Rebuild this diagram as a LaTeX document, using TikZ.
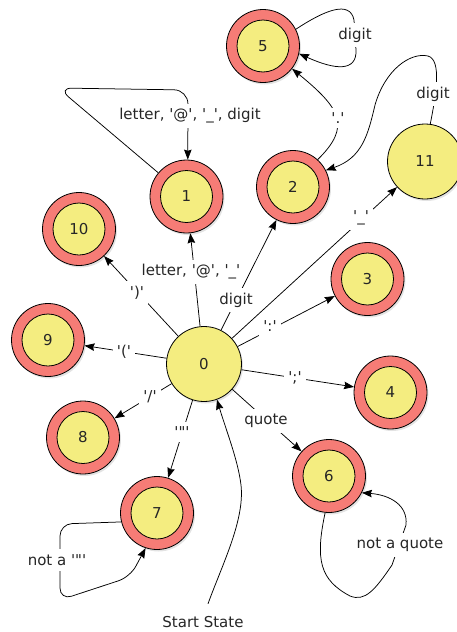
\documentclass[tikz,border=0pt]{standalone}
\usepackage{fontspec}
\setmainfont{DejaVu Sans}[Ligatures=TeXOff]
\usetikzlibrary{arrows.meta,shadows}
\definecolor{ringred}{RGB}{246,124,118}
\definecolor{coreyel}{RGB}{244,237,128}
\begin{document}
\begin{tikzpicture}[x=1pt,y=-1pt,
  font=\fontsize{15}{18}\selectfont,
  every node/.style={text=black!85},
  shad/.style={drop shadow={opacity=0.22,shadow xshift=1.5pt,shadow yshift=-2pt}},
  acc/.style={circle, draw=black, line width=0.8pt, fill=ringred, minimum size=73pt, inner sep=0pt, shad,
    path picture={\draw[line width=0.8pt, fill=coreyel] (path picture bounding box.center) circle (26pt);}},
  yelstate/.style={circle, draw=black, line width=0.8pt, fill=coreyel, minimum size=75pt, inner sep=0pt, shad},
  arr/.style={-{Stealth[length=10pt,width=7.5pt,inset=1.2pt]}, line width=0.75pt, black},
  lbl/.style={fill=white, inner xsep=4pt, inner ysep=5pt}
]
\useasboundingbox (0,0) rectangle (457,632);
\clip (0,0) rectangle (457,632);

% states
\node[yelstate] (n0) at (204,364) {0};
\node[acc] (n1) at (186.5,196.5) {1};
\node[acc] (n2) at (293,187) {2};
\node[acc] (n3) at (367.5,279) {3};
\node[acc] (n4) at (390.5,392.5) {4};
\node[acc] (n5) at (263,46) {5};
\node[acc] (n6) at (329,476) {6};
\node[acc] (n7) at (157,513) {7};
\node[acc] (n8) at (83,437.5) {8};
\node[acc] (n9) at (48,340) {9};
\node[acc] (n10) at (79,229) {10};
\node[yelstate] (n11) at (425,161.5) {11};
\node (start) at (203,622) {Start State};

% transitions from 0
\draw[arr] (n0) -- (n1);
\draw[arr] (n0) -- (n2);
\draw[arr] (n0) -- (n3);
\draw[arr] (n0) -- (n4);
\draw[arr] (n0) -- (n6);
\draw[arr] (n0) -- (n7);
\draw[arr] (n0) -- (n8);
\draw[arr] (n0) -- (n9);
\draw[arr] (n0) -- (n10);
\draw[arr] (n0) -- (n11);

% other transitions
\draw[arr] (n2.48) .. controls (352,126) and (340,108) .. (n5.-38);
\draw[arr] (n11.82) .. controls (436,95) and (442,60) .. (428,56)
  .. controls (410,52) and (385,70) .. (375,105)
  .. controls (368,135) and (362,158) .. (n2.27);
\draw[arr] (n5.27) .. controls (325,10) and (350,0) .. (354,20) -- (356,50)
  .. controls (357,72) and (335,70) .. (n5.-12);
\draw[arr, rounded corners=14pt] (n1.140) -- (58,88) -- (188,90) -- (n1.88);
\draw[arr, rounded corners=12pt] (n7.194) -- (60,524) -- (60,600) -- (130,577) -- (n7.-108);
\draw[arr] (n6.-96) .. controls (315,560) and (320,580) .. (350,596)
  .. controls (365,602) and (375,590) .. (392,565) -- (406,525)
  .. controls (408,505) and (390,495) .. (n6.-27);
\draw[arr] ([shift={(5,-9)}]start.north) .. controls (222,565) and (245,520) .. (241,485)
  .. controls (238,460) and (226,430) .. (n0.-70);

% labels
\node[lbl] (l01) at (191,272) {letter, '@', '\_'};
\node[lbl] (l02) at (236,300) {digit};
\node[lbl] (l010) at (137,293) {')'};
\node[lbl] (l011) at (361,218) {'\_'};
\node[lbl] (l03) at (270,326) {':'};
\node[lbl] (l04) at (295,378) {';'};
\node[lbl] (l06) at (266,421) {quote};
\node[lbl] (l07) at (182,432) {'"'};
\node[lbl] (l08) at (150,397) {'/'};
\node[lbl] (l09) at (124,352) {'('};
\node[lbl] (l25) at (338,118) {'.'};
\node[lbl] (l112) at (433,94) {digit};
\node[lbl] (l55) at (355,35) {digit};
\node[lbl] (l11) at (190,116) {letter, '@', '\_', digit};
\node[lbl] (l77) at (57,560) {not a '"'};
\node[lbl] (l66) at (400,545) {not a quote};
\end{tikzpicture}
\end{document}
